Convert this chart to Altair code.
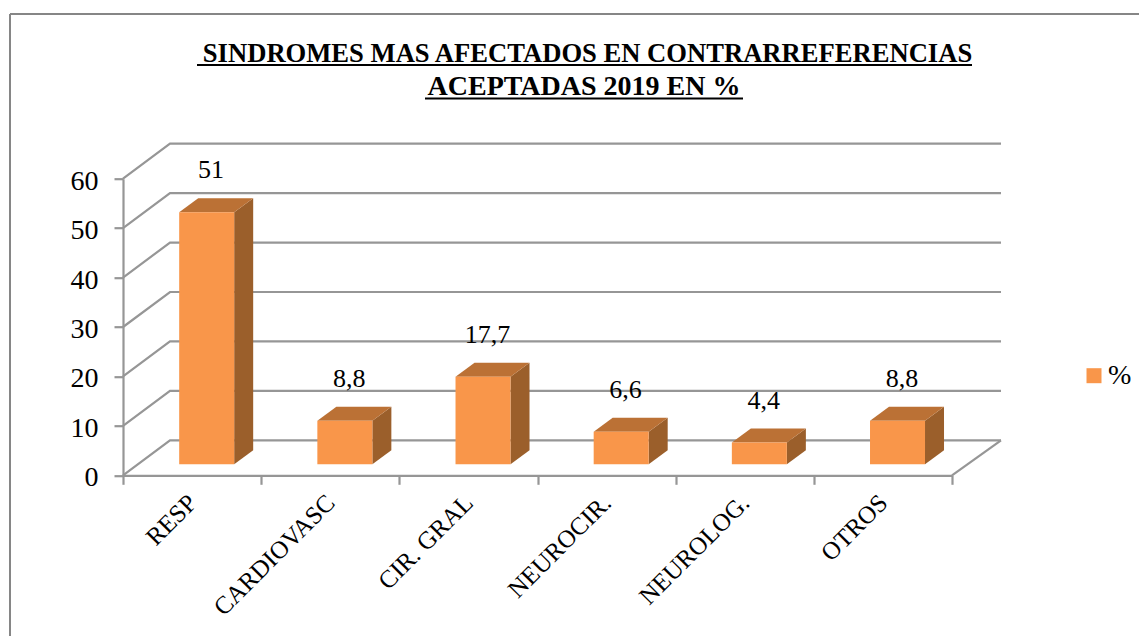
import altair as alt
import pandas as pd

categories = ["RESP", "CARDIOVASC", "CIR. GRAL", "NEUROCIR.", "NEUROLOG.", "OTROS"]
values = [51, 8.8, 17.7, 6.6, 4.4, 8.8]
value_labels = ["51", "8,8", "17,7", "6,6", "4,4", "8,8"]
y_ticks = [0, 10, 20, 30, 40, 50, 60]
title_lines = ["SINDROMES MAS AFECTADOS EN CONTRARREFERENCIAS", "ACEPTADAS 2019 EN %"]

FONT = "Liberation Serif"
W, H = 829, 296.6
UX, UY = W / 6, H / 60
FLOOR_DX, FLOOR_DY = 47 / UX, 35 / UY   # depth of the floor, in data units
FLOOR_DX_R = 49 / UX
BAR_DX, BAR_DY = 19 / UX, 14 / UY       # depth of a bar
BASE = 11 / UY                          # bars stand inside the floor
SHIFT_PX = 14.6
BAR_W_PX = 55
GRAY = "#969696"
FRONT, SIDE, TOP = "#F9964A", "#9B5F2B", "#BB7135"

bars = pd.DataFrame({"cat": categories, "value": values, "label": value_labels, "series": "%", "zero": 0})

grid_rows = []
for t in y_ticks:
    grid_rows += [dict(t=t, x=0, y=t), dict(t=t, x=FLOOR_DX, y=t + FLOOR_DY), dict(t=t, x=6 + FLOOR_DX_R, y=t + FLOOR_DY)]
grid_rows += [dict(t=-1, x=6, y=0), dict(t=-1, x=6 + FLOOR_DX_R, y=FLOOR_DY)]
grid = pd.DataFrame(grid_rows)

side_rows, top_rows = [], []
for i, (c, v) in enumerate(zip(categories, values)):
    xl = i + 0.5 + (SHIFT_PX - BAR_W_PX / 2) / UX
    xr = xl + BAR_W_PX / UX
    hh = BASE + v
    side_rows += [dict(cat=c, x=xr, lo=BASE, hi=hh), dict(cat=c, x=xr + BAR_DX, lo=BASE + BAR_DY, hi=hh + BAR_DY)]
    top_rows += [dict(cat=c, x=xl, lo=hh, hi=hh), dict(cat=c, x=xl + BAR_DX, lo=hh, hi=hh + BAR_DY),
                 dict(cat=c, x=xr, lo=hh, hi=hh + BAR_DY), dict(cat=c, x=xr + BAR_DX, lo=hh + BAR_DY, hi=hh + BAR_DY)]
side, top = pd.DataFrame(side_rows), pd.DataFrame(top_rows)

x_q = alt.X("x:Q", scale=alt.Scale(domain=[0, 6], nice=False, zero=False), axis=None)
y_scale = alt.Scale(domain=[0, 60], nice=False)
band = alt.Scale(domain=categories, paddingInner=0, paddingOuter=0)
y_axis = alt.Axis(
    values=y_ticks, grid=False, domainColor=GRAY, domainWidth=2.2, tickColor=GRAY, tickWidth=2.2, tickSize=9,
    labelFont=FONT, labelFontSize=28, labelColor="#000000", labelPadding=16, labelOffset=2.5)

grid_layer = alt.Chart(grid).mark_line(color=GRAY, strokeWidth=2.2).encode(
    x=x_q,
    y=alt.Y("y:Q", scale=y_scale, title=None, axis=y_axis),
    detail="t:N", order="x:Q",
)


def face(df, color):
    return alt.Chart(df).mark_area(color=color, interpolate="linear").encode(
        x=x_q,
        y=alt.Y("lo:Q", scale=y_scale, stack=None, title=None, axis=y_axis),
        y2="hi:Q",
        detail="cat:N",
    )


front_layer = alt.Chart(bars).mark_bar(size=BAR_W_PX, xOffset=SHIFT_PX, yOffset=-11, y2Offset=-11).encode(
    x=alt.X("cat:N", scale=band, sort=categories, title=None, axis=alt.Axis(
        tickBand="extent", domainColor=GRAY, domainWidth=2.2, tickColor=GRAY, tickWidth=2.2, tickSize=9,
        labelAngle=-45, labelAlign="right", labelBaseline="middle", labelFont=FONT, labelFontSize=25,
        labelColor="#000000", labelPadding=14, labelOverlap=False, labelLimit=300)),
    y=alt.Y("value:Q", scale=y_scale, stack=None, title=None, axis=y_axis),
    y2="zero:Q",
    color=alt.Color("series:N", scale=alt.Scale(domain=["%"], range=[FRONT]), legend=alt.Legend(
        title=None, orient="none", legendX=957, legendY=183, symbolType="square", symbolSize=225, symbolStrokeWidth=0,
        labelFont=FONT, labelFontSize=28, labelColor="#000000", labelOffset=0)),
)

text_layer = alt.Chart(bars).mark_text(font=FONT, fontSize=26, color="#000000", dx=19, dy=-53).encode(
    x=alt.X("cat:N", scale=band, sort=categories, axis=None),
    y=alt.Y("value:Q", scale=y_scale, stack=None, title=None, axis=y_axis),
    text="label:N",
)

one = pd.DataFrame({"a": [0]})
left, topm = 123, 178.7


def rule(x1, x2, y1, y2, color, width):
    return alt.Chart(one).mark_rule(color=color, strokeWidth=width).encode(
        x=alt.value(x1 - left), x2=alt.value(x2 - left), y=alt.value(y1 - topm), y2=alt.value(y2 - topm))


def title_text(line, cx, base, size):
    return alt.Chart(pd.DataFrame({"t": [line]})).mark_text(
        font=FONT, fontSize=size, fontWeight="bold", color="#000000", align="center", baseline="alphabetic"
    ).encode(x=alt.value(cx - left), y=alt.value(base - topm), text="t:N")


frame_top = rule(10, 1147, 14, 14, "#868686", 2)
frame_left = rule(10, 10, 14, 636, "#868686", 2)
ul1 = rule(197, 972, 65, 65, "#000000", 2)
ul2 = rule(425, 743, 98.5, 98.5, "#000000", 2)

chart = alt.layer(
    frame_top, frame_left, title_text(title_lines[0], 587.5, 62, 26.6), title_text(title_lines[1], 584, 95, 28), ul1, ul2,
    grid_layer, face(side, SIDE), face(top, TOP), front_layer, text_layer,
).resolve_scale(x="independent", color="independent").properties(
    width=W, height=H,
    autosize=alt.AutoSizeParams(type="none"),
    padding={"left": 115, "top": 170.7, "right": 187, "bottom": 160.7},
    background="#FFFFFF",
).configure_view(stroke=None)

chart.save("out.html", embed_options={"renderer": "svg", "actions": False})
